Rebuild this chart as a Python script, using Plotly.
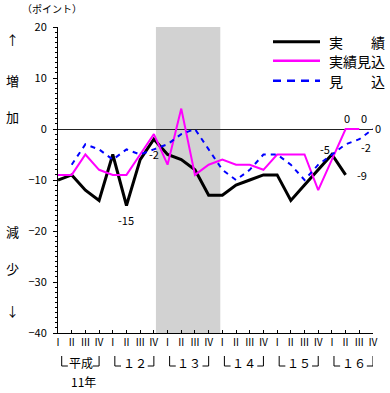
import plotly.graph_objects as go

# ---------------- data ----------------
quarter_labels = ["Ⅰ", "Ⅱ", "Ⅲ", "Ⅳ"] * 6
year_labels = ["平成", "１２", "１３", "１４", "１５", "１６"]
series_names = ["実　　績", "実績見込", "見　　込"]

actual = [-10, -9, -12, -14, -5, -15, -6, -2, -5, -6, -8, -13, -13, -11, -10, -9, -9, -14, -11, -8, -5, -9]
actual_est = [-9, -9, -5, -8, -9, -9, -5, -1, -7, 4, -9, -7, -6, -7, -7, -8, -5, -5, -5, -12, -6, 0, 0]
forecast = [None, -7, -3, -4, -6, -4, -5, -4, -3, -1, 0, -4, -8, -10, -8, -5, -5, -7, -10, -7, -5, -3, -2, 0]

recession_start, recession_end = 7.15, 11.85

# labelled points: (series, index, xshift, yshift, xanchor)
labelled = [
    (actual, 5, 0, -14, "center"),
    (actual, 7, 0, -15, "center"),
    (actual, 20, -7, 6, "center"),
    (actual, 21, 16, 0, "center"),
    (actual_est, 21, 1, 11, "center"),
    (actual_est, 22, 5, 11, "center"),
    (forecast, 22, 7, -8, "center"),
    (forecast, 23, 0, 1, "left"),
]

# ---------------- layout geometry (pixels) ----------------
W, H = 390, 393
L, R, T, B = 58, 373, 27, 333


def pxx(x):
    return (x - L) / (R - L)


def pxy(y):
    return (B - y) / (B - T)


JP = "Noto Sans CJK JP"
colors = ["#000000", "#FF00FF", "#0000FF"]

n = len(quarter_labels)
xs = list(range(n))

fig = go.Figure()
fig.add_trace(go.Scatter(x=xs[:len(actual)], y=actual, mode="lines", name=series_names[0],
                         line=dict(color=colors[0], width=3), showlegend=False))
fig.add_trace(go.Scatter(x=xs[:len(actual_est)], y=actual_est, mode="lines", name=series_names[1],
                         line=dict(color=colors[1], width=2), showlegend=False))
fig.add_trace(go.Scatter(x=xs[:len(forecast)], y=forecast, mode="lines", name=series_names[2],
                         line=dict(color=colors[2], width=2, dash="5px,5px"), showlegend=False))

shapes = []
# recession shading
shapes.append(dict(type="rect", xref="x", yref="paper", x0=recession_start, x1=recession_end,
                   y0=0, y1=1, fillcolor="#d2d2d2", line=dict(width=0), layer="below"))

# year brackets under the axis
yt, yb = pxy(356), pxy(366)
for k in range(len(year_labels)):
    xl = 4 * k + (0.27 if k == 0 else 0.15)
    xr = 4 * k + 3.0
    shapes.append(dict(type="path", xref="x", yref="paper",
                       path=f"M {xl},{yt} L {xl},{yb} L {xl + 0.45},{yb}",
                       line=dict(color="black", width=1)))
    shapes.append(dict(type="path", xref="x", yref="paper",
                       path=f"M {xr - 0.45},{yb} L {xr},{yb} L {xr},{yt}",
                       line=dict(color="black", width=1)))

# manual legend
leg_y = [41.7, 60.7, 80.7]
dashes = ["solid", "solid", "8px,6px"]
widths = [3, 2.5, 2.5]
for i in range(3):
    shapes.append(dict(type="line", xref="paper", yref="paper", x0=pxx(273), x1=pxx(320),
                       y0=pxy(leg_y[i]), y1=pxy(leg_y[i]),
                       line=dict(color=colors[i], width=widths[i], dash=dashes[i])))

annotations = []
for i in range(3):
    annotations.append(dict(xref="paper", yref="paper", x=pxx(327), y=pxy(leg_y[i]),
                            text=series_names[i], showarrow=False, xanchor="left", yanchor="middle",
                            font=dict(family=JP, size=14, color="black")))

# year labels
for k, lab in enumerate(year_labels):
    annotations.append(dict(xref="x", yref="paper", x=4 * k + (1.7 if k == 0 else 1.6), y=pxy(362),
                            text=lab, showarrow=False, xanchor="center", yanchor="middle",
                            font=dict(family=JP, size=12, color="black")))
annotations.append(dict(xref="x", yref="paper", x=1.83, y=pxy(382), text="11年", showarrow=False,
                        xanchor="center", yanchor="middle", font=dict(family=JP, size=12, color="black")))

# side texts
side = [("↑", 40), ("増", 80), ("加", 117), ("減", 231), ("少", 268), ("↓", 310)]
for txt, yy in side:
    annotations.append(dict(xref="paper", yref="paper", x=pxx(12), y=pxy(yy), text=txt, showarrow=False,
                            xanchor="center", yanchor="middle", font=dict(family=JP, size=13, color="black")))
annotations.append(dict(xref="paper", yref="paper", x=pxx(52), y=pxy(8), text="（ポイント）", showarrow=False,
                        xanchor="center", yanchor="middle", font=dict(family=JP, size=10, color="black")))

# data labels
for ser, idx, dx, dy, xa in labelled:
    v = ser[idx]
    annotations.append(dict(xref="x", yref="y", x=idx, y=v, text=str(v), showarrow=False,
                            xanchor=xa, yanchor="middle", xshift=dx, yshift=dy,
                            font=dict(family=JP, size=11, color="black")))

fig.update_layout(
    width=W, height=H,
    margin=dict(l=L, r=W - R, t=T, b=H - B),
    paper_bgcolor="white", plot_bgcolor="white",
    shapes=shapes, annotations=annotations,
    showlegend=False,
    xaxis=dict(range=[0, n - 1], tickmode="array", tickvals=xs, ticktext=quarter_labels,
               showgrid=False, zeroline=False, showline=True, linecolor="black", linewidth=1,
               ticks="inside", ticklen=3, tickcolor="black", tickangle=0,
               tickfont=dict(family=JP, size=10, color="black")),
    yaxis=dict(range=[-40, 20], tickmode="linear", tick0=-40, dtick=10,
               showgrid=False, zeroline=True, zerolinecolor="#222222", zerolinewidth=1,
               showline=True, linecolor="black", linewidth=1,
               ticks="outside", ticklen=4, tickcolor="black", ticklabelstandoff=4,
               minor=dict(dtick=1, ticks="outside", ticklen=2, tickcolor="black"),
               tickfont=dict(family=JP, size=11, color="black")),
)

fig.write_html("out.html", config={"displayModeBar": False},
               post_script="document.body.style.margin='0';document.body.style.overflow='hidden';")
